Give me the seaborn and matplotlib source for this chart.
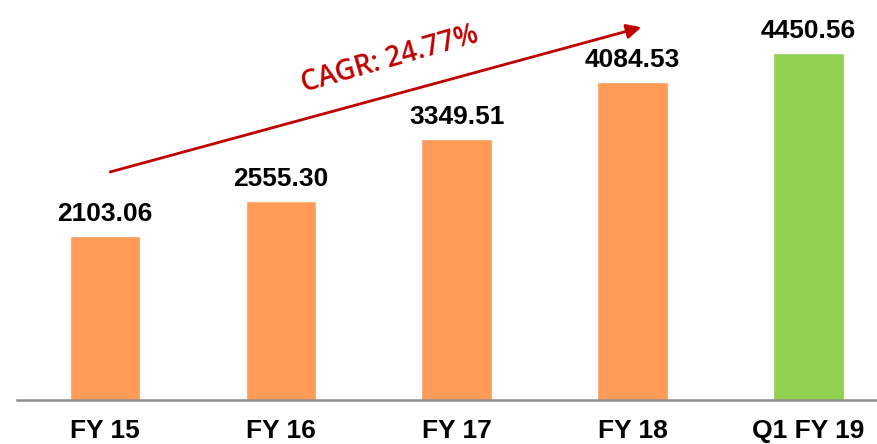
import numpy as np
import pandas as pd
import matplotlib
matplotlib.use("Agg")
import matplotlib.pyplot as plt
import seaborn as sns

# données
periods = ["FY 15", "FY 16", "FY 17", "FY 18", "Q1 FY 19"]
values = [2103.06, 2555.30, 3349.51, 4084.53, 4450.56]
bar_colors = ["#FF9B57", "#FF9B57", "#FF9B57", "#FF9B57", "#92D050"]
cagr_text = "CAGR: 24.77%"

df = pd.DataFrame({"period": periods, "value": values})

sns.set_style("white")
plt.rcParams["font.family"] = ["Liberation Sans", "DejaVu Sans"]
plt.rcParams["text.color"] = "black"
plt.rcParams["xtick.color"] = "black"

fig = plt.figure(figsize=(8.77, 4.44), dpi=100)
ax = fig.add_axes([17 / 877, 44 / 444, 860 / 877, 400 / 444])

sns.barplot(data=df, x="period", y="value", hue="period", palette=bar_colors,
            width=0.4, legend=False, ax=ax, saturation=1)

for c in ax.containers:
    ax.bar_label(c, fmt="%.2f", padding=7, fontsize=19, fontweight="bold",
                 color="black")

ax.set_xlim(-0.5, 4.39)
ax.set_ylim(0, 5130)
ax.set_xlabel("")
ax.set_ylabel("")
ax.set_yticks([])
ax.tick_params(axis="x", length=0, pad=14, labelsize=19, labelcolor="black")
for lbl in ax.get_xticklabels():
    lbl.set_fontweight("bold")

sns.despine(ax=ax, left=True)
ax.spines["bottom"].set_color("#8C8C8C")
ax.spines["bottom"].set_linewidth(1.8)

# flèche CAGR
ax.annotate("", xy=(3.05, 4780), xytext=(0.03, 2925),
            arrowprops=dict(arrowstyle="-|>", color="#C00000", lw=2,
                            mutation_scale=22, shrinkA=0, shrinkB=0))
ax.text(1.62, 4370, cagr_text, color="#C00000", fontsize=20, rotation=16,
        ha="center", va="center", fontweight="semibold",
        family=["Open Sans", "DejaVu Sans"])

fig.savefig("out.png", dpi=100)
